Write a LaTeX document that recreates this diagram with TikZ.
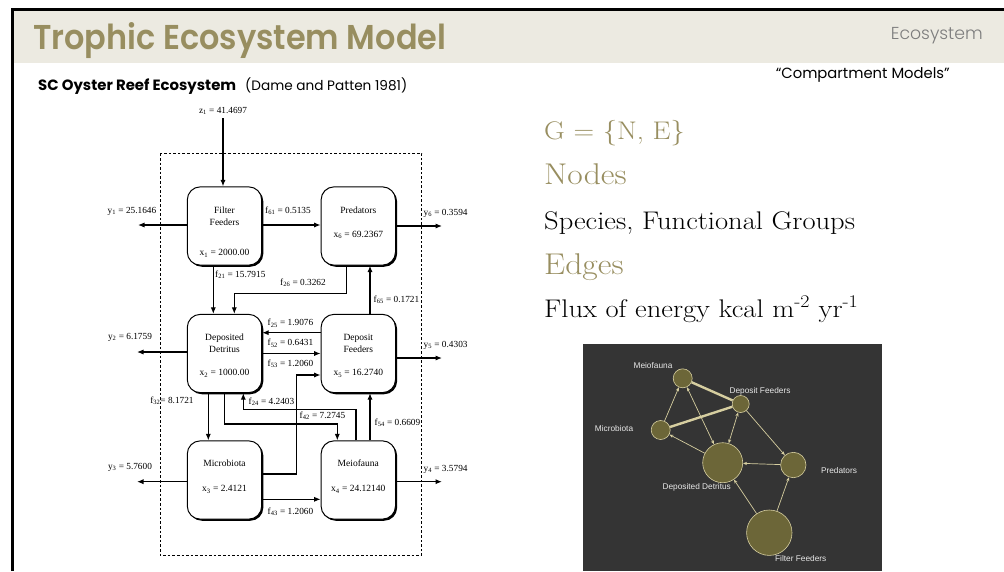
\documentclass[tikz,border=0pt]{standalone}
\usepackage{fontspec}
\usetikzlibrary{arrows.meta,shadows}
\newfontfamily\gothic{Poppins}
\newfontfamily\gothicsemi{Poppins SemiBold}
\newfontfamily\gothiclight{Poppins Light}
\newfontfamily\timesf{Liberation Serif}
\newfontfamily\arialf{Liberation Sans}
\definecolor{headbg}{RGB}{236,234,225}
\definecolor{olive}{RGB}{152,142,96}
\definecolor{headgray}{RGB}{125,125,125}
\definecolor{panel}{RGB}{52,52,52}
\definecolor{gfill}{RGB}{108,102,56}
\definecolor{gline}{RGB}{214,206,160}
\definecolor{glabel}{RGB}{232,232,232}
\newcommand\wide[1]{\scalebox{1.12}[1]{#1}}
\tikzset{
  compbox/.style={draw=black, line width=1pt, fill=white, rounded corners=13pt,
    minimum width=74.4pt, minimum height=78.3pt, inner sep=0pt,
    drop shadow={shadow xshift=1.6pt, shadow yshift=-1.6pt, opacity=1, fill=black}},
  boxtxt/.style={font=\timesf\fontsize{9.5}{11}\selectfont, inner sep=0pt, text height=6.5pt, text depth=1.5pt},
  flux/.style={font=\timesf\fontsize{9.3}{11}\selectfont, inner sep=0pt, text height=6.5pt, text depth=1.5pt},
  arr/.style={line width=1.2pt, -{Latex[length=6.5pt,width=5.2pt]}},
  boundary/.style={line width=0.9pt, dash pattern=on 2.6pt off 2pt},
  gnode/.style={circle, fill=gfill, draw=gline, line width=0.6pt, inner sep=0pt},
  gedge/.style={draw=gline, line width=0.7pt, -{Stealth[length=4pt,width=3.2pt]}},
  gthick/.style={draw=gline, line width=2.4pt},
  glbl/.style={font=\arialf\fontsize{8.3}{10}\selectfont, text=glabel, inner sep=0pt},
  bigtxt/.style={anchor=base west, inner sep=0pt},
}
\begin{document}
\begin{tikzpicture}[x=1pt,y=-1pt]
\useasboundingbox (0,0) rectangle (1004,571);
\fill[white] (0,0) rectangle (1004,571);

% slide header
\fill[headbg] (13,11) rectangle (1004,62.5);
\draw[line width=3pt] (12,571) -- (12,9.5) -- (1004,9.5);
\node[anchor=base west, inner sep=0pt, text=olive] (title) at (33,49.3)
  {\resizebox{413pt}{27pt}{\gothicsemi Trophic Ecosystem Model}};
\node[anchor=base east, inner sep=0pt, text=headgray] (section) at (983,39.3)
  {\resizebox{92pt}{!}{\gothiclight\fontsize{16}{18}\selectfont Ecosystem}};

% captions
\node[anchor=base west, inner sep=0pt] (caption) at (38,90.7)
  {\resizebox{198pt}{!}{\gothic\bfseries\fontsize{12}{14}\selectfont SC Oyster Reef Ecosystem}};
\node[anchor=base west, inner sep=0pt] (citation) at (245,90.7)
  {\resizebox{162pt}{!}{\gothic\fontsize{10}{12}\selectfont (Dame and Patten 1981)}};
\node[anchor=base east, inner sep=0pt] (kind) at (950,78.5)
  {\resizebox{174pt}{!}{\gothic\fontsize{12}{14}\selectfont “Compartment Models”}};

% compartment diagram
\draw[boundary] (160,153.3) rectangle (421.7,555);

\node[compbox] (ff) at (224.5,226) {};
\node[compbox] (pr) at (358.3,226) {};
\node[compbox] (dd) at (224.5,353.5) {};
\node[compbox] (df) at (358.3,353.5) {};
\node[compbox] (mb) at (224.5,480) {};
\node[compbox] (mf) at (358.3,480) {};

\node[boxtxt] (ff1) at (224.5,210.7) {Filter};
\node[boxtxt] (ff2) at (224.5,222.7) {Feeders};
\node[boxtxt] (ff3) at (224.5,253.3) {x\textsubscript{1} = 2000.00};
\node[boxtxt] (pr1) at (358.3,210.7) {Predators};
\node[boxtxt] (pr2) at (358.3,235) {x\textsubscript{6} = 69.2367};
\node[boxtxt] (dd1) at (224.5,338.3) {Deposited};
\node[boxtxt] (dd2) at (224.5,350) {Detritus};
\node[boxtxt] (dd3) at (224.5,373.3) {x\textsubscript{2} = 1000.00};
\node[boxtxt] (df1) at (358.3,338.3) {Deposit};
\node[boxtxt] (df2) at (358.3,350) {Feeders};
\node[boxtxt] (df3) at (358.3,373.3) {x\textsubscript{5} = 16.2740};
\node[boxtxt] (mb1) at (224.5,464.3) {Microbiota};
\node[boxtxt] (mb2) at (224.5,489.3) {x\textsubscript{3} = 2.4121};
\node[boxtxt] (mf1) at (358.3,464.3) {Meiofauna};
\node[boxtxt] (mf2) at (358.3,489.3) {x\textsubscript{4} = 24.12140};

% end points and bends of the flows
\coordinate (zin) at (223,118);
\coordinate (k1) at (138,225);
\coordinate (k6) at (442,226);
\coordinate (k2) at (137,352);
\coordinate (k5) at (442,358);
\coordinate (k3) at (137,481.7);
\coordinate (k4) at (442,481.7);
\coordinate (r25) at (0,332.7);
\coordinate (r52) at (0,353.5);
\coordinate (r43) at (0,499.3);
\coordinate (c21) at (213.3,0);
\coordinate (c32) at (208.3,0);
\coordinate (c370) at (370,0);
\coordinate (k26a) at (346.7,293.3);
\coordinate (k26b) at (234.3,293.3);
\coordinate (k53a) at (296.7,474);
\coordinate (k53b) at (296.7,375);
\coordinate (k24a) at (356,409.3);
\coordinate (k24b) at (243.3,409.3);
\coordinate (k42a) at (224.3,424);
\coordinate (k42b) at (337.3,424);

\draw[arr] (zin) -- (zin |- ff.north);
\draw[arr] (ff.west |- k1) -- (k1);
\draw[arr] (ff.east |- k1) -- (pr.west |- k1);
\draw[arr] (pr.east |- k6) -- (k6);
\draw[arr] (ff.south -| c21) -- (dd.north -| c21);
\draw[arr] (pr.south -| k26a) -- (k26a) -- (k26b) -- (dd.north -| k26b);
\draw[arr] (df.north -| c370) -- (pr.south -| c370);
\draw[arr] (dd.west |- k2) -- (k2);
\draw[arr] (df.west |- r25) -- (dd.east |- r25);
\draw[arr] (dd.east |- r52) -- (df.west |- r52);
\draw[arr] (mb.east |- k53a) -- (k53a) -- (k53b) -- (df.west |- k53b);
\draw[arr] (df.east |- k5) -- (k5);
\draw[arr] (dd.south -| c32) -- (mb.north -| c32);
\draw[arr] (mf.north -| k24a) -- (k24a) -- (k24b) -- (dd.south -| k24b);
\draw[arr] (dd.south -| k42a) -- (k42a) -- (k42b) -- (mf.north -| k42b);
\draw[arr] (mf.north -| c370) -- (df.south -| c370);
\draw[arr] (mb.west |- k3) -- (k3);
\draw[arr] (mb.east |- r43) -- (mf.west |- r43);
\draw[arr] (mf.east |- k4) -- (k4);

\node[flux] (lz1) at (223,110.7) {z\textsubscript{1} = 41.4697};
\node[flux] (ly1) at (132,211) {y\textsubscript{1} = 25.1646};
\node[flux] (l61) at (288,211) {f\textsubscript{61} = 0.5135};
\node[flux, anchor=west] (ly6) at (423.5,213) {y\textsubscript{6} = 0.3594};
\node[flux, anchor=west] (l21) at (215,275) {f\textsubscript{21} = 15.7915};
\node[flux] (l26) at (303,283) {f\textsubscript{26} = 0.3262};
\node[flux, anchor=west] (l65) at (373.5,300) {f\textsubscript{65} = 0.1721};
\node[flux] (ly2) at (130,337) {y\textsubscript{2} = 6.1759};
\node[flux] (l25) at (290.5,323.3) {f\textsubscript{25} = 1.9076};
\node[flux] (l52) at (290.5,343.3) {f\textsubscript{52} = 0.6431};
\node[flux] (l53) at (290.5,364) {f\textsubscript{53} = 1.2060};
\node[flux, anchor=west] (ly5) at (423.5,345) {y\textsubscript{5} = 0.4303};
\node[flux] (l32) at (172,401) {f\textsubscript{32}= 8.1721};
\node[flux] (l24) at (271.5,402) {f\textsubscript{24} = 4.2403};
\node[flux] (l42) at (322.5,416) {f\textsubscript{42} = 7.2745};
\node[flux, anchor=west] (l54) at (374.5,423.3) {f\textsubscript{54} = 0.6609};
\node[flux] (ly3) at (130,467) {y\textsubscript{3} = 5.7600};
\node[flux, anchor=west] (ly4) at (423.5,469) {y\textsubscript{4} = 3.5794};
\node[flux] (l43) at (290.5,511.7) {f\textsubscript{43} = 1.2060};

% graph vocabulary
\node[bigtxt, text=olive, font=\fontsize{25.5}{30}\selectfont] (gset) at (544,139) {\wide{G = \{N, E\}}};
\node[bigtxt, text=olive, font=\fontsize{30}{32}\selectfont] (nodes) at (544,184) {\wide{Nodes}};
\node[bigtxt, font=\fontsize{25.5}{28}\selectfont] (species) at (544,229) {\wide{Species, Functional Groups}};
\node[bigtxt, text=olive, font=\fontsize{30}{32}\selectfont] (edges) at (544,274) {\wide{Edges}};
\node[bigtxt, font=\fontsize{25.5}{28}\selectfont] (fluxtxt) at (544,317)
  {\wide{Flux of energy kcal m\textsuperscript{-2} yr\textsuperscript{-1}}};

% network panel
\fill[panel] (583,344) rectangle (882,571);
\node[gnode, minimum size=19pt] (gmf) at (682.7,378.3) {};
\node[gnode, minimum size=17pt] (gdf) at (740.7,404) {};
\node[gnode, minimum size=19pt] (gmb) at (660.7,430) {};
\node[gnode, minimum size=40pt] (gdd) at (722.7,462.7) {};
\node[gnode, minimum size=25.4pt] (gpr) at (793.3,465) {};
\node[gnode, minimum size=45.4pt] (gff) at (769.3,532.7) {};

\draw[gthick] (gmf) -- (gdf);
\draw[gthick] (gmb) -- (gdf);
\draw[gedge] (gmb) -- (gmf);
\draw[gedge, {Stealth[length=4pt,width=3.2pt]}-{Stealth[length=4pt,width=3.2pt]}] (gdd) -- (gmf);
\draw[gedge, {Stealth[length=4pt,width=3.2pt]}-{Stealth[length=4pt,width=3.2pt]}] (gdd) -- (gdf);
\draw[gedge] (gdd) -- (gmb);
\draw[gedge] (gdf) -- (gpr);
\draw[gedge] (gpr) -- (gdd);
\draw[gedge] (gff) -- (gdd);
\draw[gedge] (gff) -- (gpr);

\node[glbl] (tmf) at (653,366) {Meiofauna};
\node[glbl] (tdf) at (760,391) {Deposit Feeders};
\node[glbl] (tmb) at (614,429) {Microbiota};
\node[glbl] (tdd) at (696.7,487.7) {Deposited Detritus};
\node[glbl] (tpr) at (839,470.7) {Predators};
\node[glbl] (tff) at (800.7,559) {Filter Feeders};
\end{tikzpicture}
\end{document}
